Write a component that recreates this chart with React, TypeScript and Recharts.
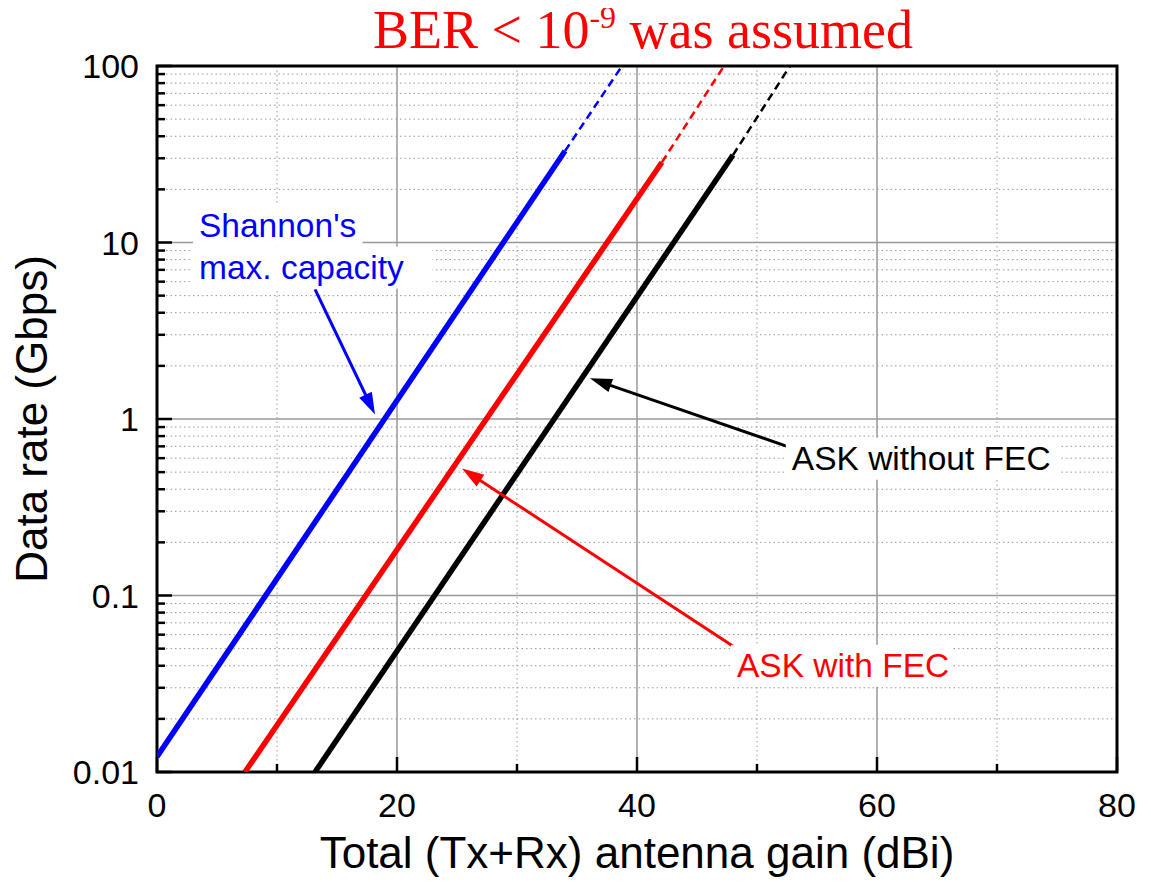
import React from "react";
import {
  CartesianGrid,
  Line,
  LineChart,
  ReferenceArea,
  ReferenceDot,
  ReferenceLine,
  XAxis,
  YAxis,
} from "recharts";

// gain (dBi) / rate (Gbps); last segment of each curve is dashed
const SHANNON_GAIN = [0, 34, 38.75];
const SHANNON_RATE = [0.0122, 33, 100];
const FEC_GAIN = [7.33, 42.08, 47.25];
const FEC_RATE = [0.01, 28.5, 100];
const NOFEC_GAIN = [13.17, 48, 52.75];
const NOFEC_RATE = [0.01, 31.3, 100];

const X_MAJOR = [0, 20, 40, 60, 80];
const X_MINOR = [10, 30, 50, 70];
const Y_MAJOR = [0.01, 0.1, 1, 10, 100];
const Y_DECADES = [0.01, 0.1, 1, 10];
const Y_STEPS = [2, 3, 4, 5, 6, 7, 8, 9];
const Y_MINOR = Y_DECADES.flatMap((d) => Y_STEPS.map((s) => Number((d * s).toPrecision(2))));

const NOTE_TEXT = [["Shannon's", "max. capacity"], ["ASK without FEC"], ["ASK with FEC"]];
const NOTE_GAIN = [3.5, 52.9, 48.33];
const NOTE_RATE = [10.8, 0.516, 0.0346];
const NOTE_COLOR = ["#0000ff", "#000000", "#ff0000"];

const ARROW_FROM_GAIN = [13.17, 52.5, 48.33];
const ARROW_FROM_RATE = [5.43, 0.7, 0.0499];
const ARROW_TO_GAIN = [18.17, 36.08, 25.42];
const ARROW_TO_RATE = [1.06, 1.7, 0.524];

const FONT = "'Liberation Sans', Arial, sans-serif";
const W = 1135;
const H = 874;
const Y_TICK_MARGIN = 18;
const X_TICK_MARGIN = 10;

function pts(gain: number[], rate: number[], from: number, to: number) {
  return gain.slice(from, to).map((g, i) => ({ gain: g, rate: rate.slice(from, to)[i] }));
}

function fmtY(v: number) {
  return v < 1 ? String(v) : String(Math.round(v));
}

function YTick(props: any) {
  const { x, y, payload } = props;
  const edge = x + Y_TICK_MARGIN;
  const major = Y_MAJOR.includes(payload.value);
  return (
    <g>
      <line x1={edge} x2={edge + (major ? 15 : 8)} y1={y} y2={y} stroke="#000" strokeWidth={2.5} />
      {major ? (
        <text x={x} y={y + 12} textAnchor="end" fontSize={34} fontFamily={FONT} fill="#000">
          {fmtY(payload.value)}
        </text>
      ) : null}
    </g>
  );
}

function XTick(props: any) {
  const { x, y, payload } = props;
  const edge = y - X_TICK_MARGIN;
  const major = X_MAJOR.includes(payload.value);
  return (
    <g>
      <line x1={x} x2={x} y1={edge} y2={edge - (major ? 15 : 8)} stroke="#000" strokeWidth={2.5} />
      {major ? (
        <text x={x} y={edge + 45} textAnchor="middle" fontSize={34} fontFamily={FONT} fill="#000">
          {payload.value}
        </text>
      ) : null}
    </g>
  );
}

function Arrow(props: any) {
  const { x1, y1, x2, y2, color } = props;
  const dx = x2 - x1;
  const dy = y2 - y1;
  const len = Math.sqrt(dx * dx + dy * dy);
  const ux = dx / len;
  const uy = dy / len;
  const head = 22;
  const half = 7;
  const bx = x2 - ux * head;
  const by = y2 - uy * head;
  return (
    <g>
      <line x1={x1} y1={y1} x2={bx + ux * 2} y2={by + uy * 2} stroke={color} strokeWidth={3} />
      <polygon
        points={`${x2},${y2} ${bx - uy * half},${by + ux * half} ${bx + uy * half},${by - ux * half}`}
        fill={color}
      />
    </g>
  );
}

function Note(props: any) {
  const { cx, cy, lines, color } = props;
  return (
    <g>
      {lines.map((t: string, i: number) => (
        <rect
          key={"r" + i}
          x={cx - 6}
          y={cy + i * 42 - 32}
          width={t.length * 17.5 + 12}
          height={42}
          fill="#fff"
        />
      ))}
      {lines.map((t: string, i: number) => (
        <text key={"t" + i} x={cx} y={cy + i * 42} fontSize={33.5} fontFamily={FONT} fill={color}>
          {t}
        </text>
      ))}
    </g>
  );
}

const series = [
  { gain: SHANNON_GAIN, rate: SHANNON_RATE, color: "#0000ff" },
  { gain: FEC_GAIN, rate: FEC_RATE, color: "#ff0000" },
  { gain: NOFEC_GAIN, rate: NOFEC_RATE, color: "#000000" },
];

export default function App() {
  return (
    <div style={{ position: "relative", width: W, height: H }}>
      <div
        style={{
          position: "absolute",
          left: 235,
          top: -5,
          width: 800,
          textAlign: "center",
          fontFamily: "'Liberation Serif', 'Times New Roman', serif",
          fontSize: 54,
          lineHeight: 1,
          color: "#ff0000",
          whiteSpace: "nowrap",
        }}
      >
        BER &lt; 10
        <span style={{ fontSize: 32, verticalAlign: 20, lineHeight: 0 }}>-9</span> was assumed
      </div>
      <LineChart width={W} height={H} margin={{ top: 58, right: 26, left: 0, bottom: 0 }}>
        <CartesianGrid
          horizontalValues={Y_MINOR}
          verticalValues={X_MINOR}
          stroke="#999"
          strokeWidth={1}
          strokeDasharray="1.5 3"
        />
        <CartesianGrid
          horizontalValues={Y_MAJOR}
          verticalValues={X_MAJOR}
          stroke="#999"
          strokeWidth={1.5}
        />
        <XAxis
          dataKey="gain"
          type="number"
          domain={[0, 80]}
          ticks={[...X_MAJOR, ...X_MINOR].sort((a, b) => a - b)}
          interval={0}
          allowDataOverflow
          axisLine={false}
          tickLine={false}
          tickSize={0}
          tickMargin={X_TICK_MARGIN}
          tick={(p: any) => <XTick {...p} />}
          height={110}
          label={{
            content: (p: any) => {
              const vb = p.viewBox;
              return (
                <text
                  x={vb.x + vb.width / 2}
                  y={vb.y + 96}
                  textAnchor="middle"
                  fontSize={44}
                  fontFamily={FONT}
                  fill="#000"
                >
                  Total (Tx+Rx) antenna gain (dBi)
                </text>
              );
            },
          }}
        />
        <YAxis
          dataKey="rate"
          type="number"
          scale="log"
          domain={[0.01, 100]}
          ticks={[...Y_MAJOR, ...Y_MINOR].sort((a, b) => a - b)}
          interval={0}
          allowDataOverflow
          axisLine={false}
          tickLine={false}
          tickSize={0}
          tickMargin={Y_TICK_MARGIN}
          tick={(p: any) => <YTick {...p} />}
          width={149}
          label={{
            content: (p: any) => {
              const vb = p.viewBox;
              const cx = 39;
              const cy = vb.y + vb.height / 2;
              return (
                <text
                  x={cx}
                  y={cy}
                  transform={`rotate(-90 ${cx} ${cy})`}
                  textAnchor="middle"
                  fontSize={44}
                  fontFamily={FONT}
                  fill="#000"
                >
                  Data rate (Gbps)
                </text>
              );
            },
          }}
        />
        {NOTE_TEXT.map((lines, i) => (
          <ReferenceDot
            key={"note" + i}
            x={NOTE_GAIN[i]}
            y={NOTE_RATE[i]}
            r={0}
            shape={(p: any) => <Note cx={p.cx} cy={p.cy} lines={lines} color={NOTE_COLOR[i]} />}
          />
        ))}
        {series.map((s, i) => (
          <Line
            key={"solid" + i}
            data={pts(s.gain, s.rate, 0, 2)}
            dataKey="rate"
            stroke={s.color}
            strokeWidth={5.5}
            dot={false}
            isAnimationActive={false}
          />
        ))}
        {series.map((s, i) => (
          <Line
            key={"dash" + i}
            data={pts(s.gain, s.rate, 1, 3)}
            dataKey="rate"
            stroke={s.color}
            strokeWidth={2.5}
            strokeDasharray="8 5"
            dot={false}
            isAnimationActive={false}
          />
        ))}
        {ARROW_FROM_GAIN.map((g, i) => (
          <ReferenceLine
            key={"arrow" + i}
            segment={[
              { x: g, y: ARROW_FROM_RATE[i] },
              { x: ARROW_TO_GAIN[i], y: ARROW_TO_RATE[i] },
            ]}
            shape={(p: any) => <Arrow {...p} color={NOTE_COLOR[i]} />}
          />
        ))}
        <ReferenceArea x1={0} x2={80} y1={0.01} y2={100} fill="none" stroke="#000" strokeWidth={3} />
      </LineChart>
    </div>
  );
}
